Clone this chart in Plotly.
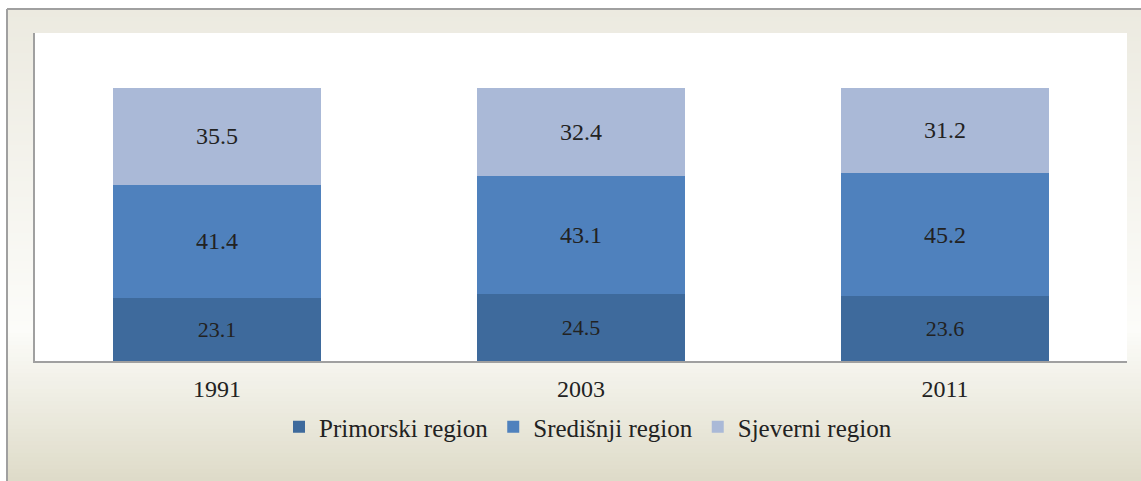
import plotly.graph_objects as go

years = ["1991", "2003", "2011"]
primorski = [23.1, 24.5, 23.6]
sredisnji = [41.4, 43.1, 45.2]
sjeverni = [35.5, 32.4, 31.2]
series_names = ["Primorski region", "Središnji region", "Sjeverni region"]
colors = ["#3E6A9C", "#4F81BD", "#AAB9D7"]

FONT = "Liberation Serif, Times New Roman, serif"
W, H = 1141, 481
L, R, T, B = 35, 14, 33, 120
pw, ph = W - L - R, H - T - B

def px2x(px):
    return (px - L) / pw

def py2y(py):
    return (H - B - py) / ph

fig = go.Figure()
for name, vals, col, fs in zip(series_names, [primorski, sredisnji, sjeverni], colors, [22, 24, 24]):
    fig.add_trace(go.Bar(
        x=years, y=vals, name=name, marker=dict(color=col, line=dict(width=0)),
        text=[f"{v:.1f}" for v in vals], textposition="inside", insidetextanchor="middle",
        textfont=dict(family=FONT, size=fs, color="#222222"),
        hoverinfo="skip",
    ))

# background gradient bands
def lerp(c1, c2, t):
    return tuple(round(a + (b - a) * t) for a, b in zip(c1, c2))

stops = [(10, (236, 234, 224)), (330, (252, 252, 249)), (481, (222, 219, 200))]
shapes = []
step = 4
y = 9
while y < H:
    mid = y + step / 2
    for (ya, ca), (yb, cb) in zip(stops[:-1], stops[1:]):
        if ya <= mid <= yb:
            c = lerp(ca, cb, (mid - ya) / (yb - ya))
            break
    else:
        c = stops[-1][1] if mid > stops[-1][0] else stops[0][1]
    shapes.append(dict(type="rect", xref="paper", yref="paper", layer="below",
                       x0=px2x(8), x1=px2x(W + 2), y0=py2y(min(y + step + 0.5, H + 2)), y1=py2y(y),
                       line=dict(width=0), fillcolor="rgb(%d,%d,%d)" % c))
    y += step
# white plot area
shapes.append(dict(type="rect", xref="paper", yref="paper", layer="below",
                   x0=0, x1=1, y0=0, y1=1, line=dict(width=0), fillcolor="white"))
# outer frame lines
shapes.append(dict(type="line", xref="paper", yref="paper", layer="below",
                   x0=px2x(7), x1=px2x(7), y0=py2y(H + 2), y1=py2y(9),
                   line=dict(color="#A0A0A0", width=2)))
shapes.append(dict(type="line", xref="paper", yref="paper", layer="below",
                   x0=px2x(7), x1=px2x(W + 2), y0=py2y(9), y1=py2y(9),
                   line=dict(color="#A0A0A0", width=2)))

fig.update_layout(
    width=W, height=H,
    margin=dict(l=L, r=R, t=T, b=B),
    barmode="stack", bargap=0.43,
    paper_bgcolor="white", plot_bgcolor="rgba(0,0,0,0)",
    font=dict(family=FONT, size=24, color="#222222"),
    shapes=shapes,
    showlegend=True,
    legend=dict(orientation="h", x=px2x(588), xanchor="center", y=py2y(427), yanchor="middle",
                traceorder="normal", font=dict(family=FONT, size=25, color="#222222"),
                bgcolor="rgba(0,0,0,0)"),
)
fig.update_xaxes(showline=True, linecolor="#A0A0A0", linewidth=2, showgrid=False,
                 ticks="outside", ticklen=5, tickcolor="rgba(0,0,0,0)",
                 tickfont=dict(family=FONT, size=24, color="#222222"))
fig.update_yaxes(range=[0, 120], showline=True, linecolor="#A0A0A0", linewidth=2,
                 showgrid=False, showticklabels=False, zeroline=False, ticks="")

fig.write_html("out.html", config={"displayModeBar": False},
               post_script="document.body.style.margin='0';")
